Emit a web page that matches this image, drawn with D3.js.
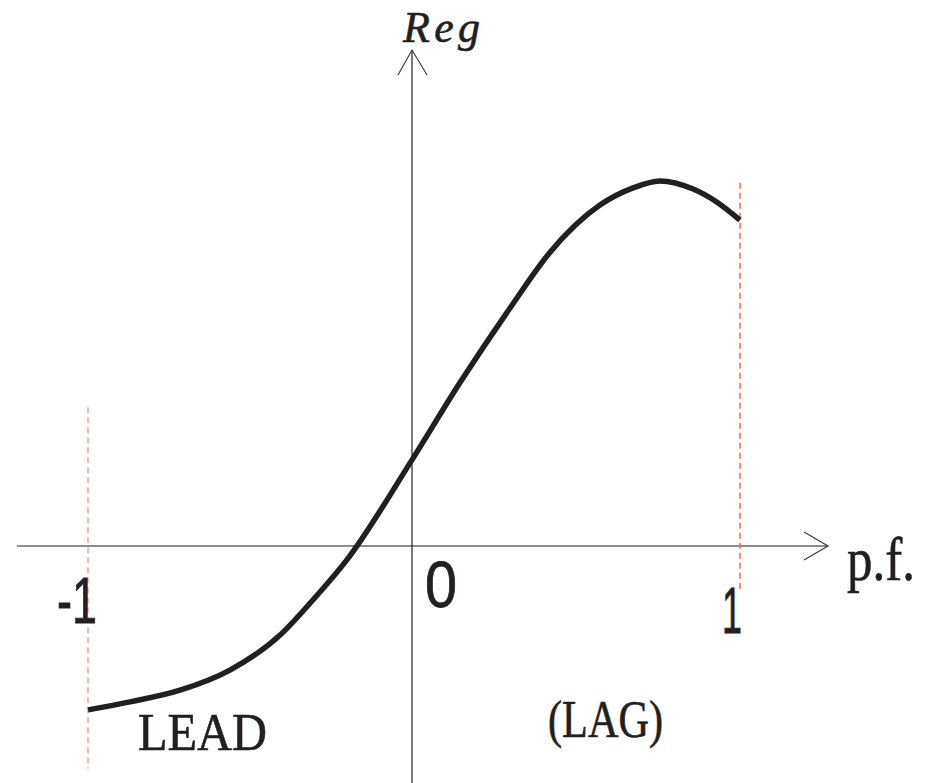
<!DOCTYPE html>
<html><head><meta charset="utf-8">
<script src="https://cdn.jsdelivr.net/npm/d3@7"></script>
<style>html,body{margin:0;padding:0;background:#fff;}svg{display:block;}</style>
</head><body>
<svg id="c" width="934" height="783"></svg>
<script>
// Data (power factor vs. regulation)
const pf  = [-1, -0.870, -0.716, -0.562, -0.407, -0.306, -0.201, 0, 0.146, 0.299, 0.421, 0.573, 0.674, 0.756, 0.857, 0.930, 1.0];
const reg = [-0.449, -0.427, -0.395, -0.340, -0.244, -0.148, -0.038, 0.236, 0.447, 0.652, 0.805, 0.934, 0.981, 1.0, 0.978, 0.942, 0.893];
const tickValues = [-1, 0, 1];
const tickLabels = ["-1", "0", "1"];
const guidePf = [-1, 1];
const guideFrom = [-0.61, -0.12];
const guideTo = [0.38, 0.995];
const xTitle = "p.f.";
const yTitle = "Reg";
const leadLabel = "LEAD";
const lagLabel = "(LAG)";

const SERIF = "'Liberation Serif', 'Times New Roman', Times, serif";
const SANS = "'Liberation Sans', Arial, Helvetica, sans-serif";
const INK = "#231f20";

const svg = d3.select("#c");
const x = d3.scaleLinear().domain([-1, 0, 1]).range([88, 412, 740]);
const y = d3.scaleLinear().domain([0, 1]).range([546, 181]);

// x axis
svg.append("line").attr("x1", 17).attr("x2", 828).attr("y1", y(0)).attr("y2", y(0))
  .attr("stroke", "#666").attr("stroke-width", 1.6);
svg.append("path").attr("d", `M804,${y(0)-14}L828,${y(0)}L804,${y(0)+14}`)
  .attr("fill", "none").attr("stroke", "#333").attr("stroke-width", 1.1);

// y axis
svg.append("line").attr("x1", x(0)).attr("x2", x(0)).attr("y1", 50).attr("y2", 783)
  .attr("stroke", "#222").attr("stroke-width", 1.2);
svg.append("path").attr("d", `M${x(0)-14},75L${x(0)},50L${x(0)+15},75`)
  .attr("fill", "none").attr("stroke", "#333").attr("stroke-width", 1.1);

// guides
const gColors = ["#f4a386", "#f26a3a"];
guidePf.forEach((p, i) => {
  svg.append("line").attr("x1", x(p)).attr("x2", x(p))
    .attr("y1", y(guideTo[i])).attr("y2", y(guideFrom[i]))
    .attr("stroke", gColors[i]).attr("stroke-width", 1.5)
    .attr("stroke-dasharray", "6,4");
});

// curve
const pts = pf.map((v, i) => [v, reg[i]]);
svg.append("path").datum(pts)
  .attr("d", d3.line().x(d => x(d[0])).y(d => y(d[1])).curve(d3.curveMonotoneX))
  .attr("fill", "none").attr("stroke", INK).attr("stroke-width", 5.5)
  .attr("stroke-linejoin", "round");

// tick labels
const tickPos = [[77, 623], [441, 607], [732, 633]];
const tickW = [40, 32, 20];
tickValues.forEach((t, i) => {
  svg.append("text").attr("x", tickPos[i][0]).attr("y", tickPos[i][1])
    .attr("text-anchor", "middle")
    .style("font-family", SANS)
    .attr("font-size", 64).attr("fill", INK)
    .attr("stroke", INK).attr("stroke-width", 0.8)
    .attr("textLength", tickW[i]).attr("lengthAdjust", "spacingAndGlyphs")
    .text(tickLabels[i]);
});

// titles
svg.append("text").attr("x", 847).attr("y", 580)
  .style("font-family", SERIF)
  .attr("font-size", 62).attr("fill", INK)
  .attr("stroke", INK).attr("stroke-width", 0.6)
  .attr("textLength", 68).attr("lengthAdjust", "spacingAndGlyphs")
  .text(xTitle);
svg.append("text").attr("x", 403).attr("y", 42)
  .style("font-family", SERIF)
  .style("font-style", "italic")
  .attr("font-size", 44).attr("fill", INK)
  .attr("stroke", INK).attr("stroke-width", 0.6)
  .attr("textLength", 77).attr("lengthAdjust", "spacing")
  .text(yTitle);
svg.append("text").attr("x", 138).attr("y", 750)
  .style("font-family", SERIF)
  .attr("font-size", 53).attr("fill", INK)
  .attr("stroke", INK).attr("stroke-width", 0.6)
  .attr("textLength", 129).attr("lengthAdjust", "spacingAndGlyphs")
  .text(leadLabel);
svg.append("text").attr("x", 548).attr("y", 737)
  .style("font-family", SERIF)
  .attr("font-size", 53).attr("fill", INK)
  .attr("stroke", INK).attr("stroke-width", 0.6)
  .attr("textLength", 115).attr("lengthAdjust", "spacingAndGlyphs")
  .text(lagLabel);
</script>
</body></html>
